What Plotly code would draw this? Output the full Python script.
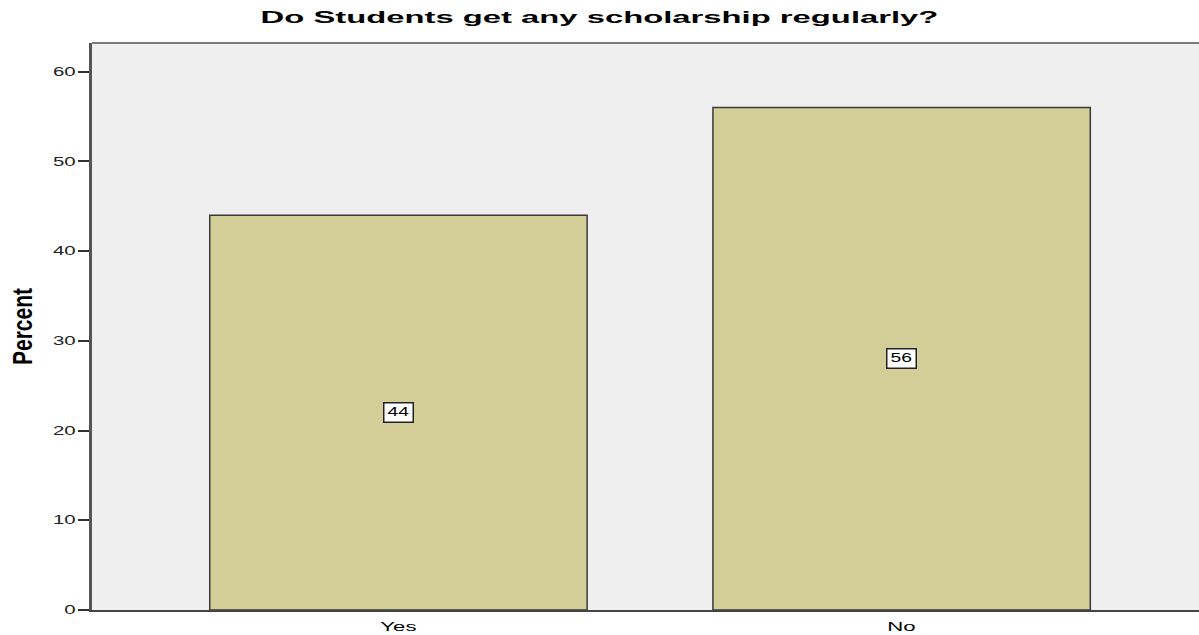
import plotly.graph_objects as go

categories = ["Yes", "No"]
percents = [44, 56]
y_ticks = [0, 10, 20, 30, 40, 50, 60]

x_pos = list(range(len(categories)))
FONT = "Arial, Liberation Sans, sans-serif"

fig = go.Figure()
fig.add_trace(go.Bar(
    x=x_pos,
    y=percents,
    width=0.75,
    marker=dict(color="#d3cd97", line=dict(color="#3a3a3a", width=1.5)),
    hoverinfo="skip",
))

# value labels boxed at mid-height of each bar
for xp, v in zip(x_pos, percents):
    fig.add_annotation(
        x=xp, y=v / 2, text=str(v), showarrow=False,
        font=dict(family=FONT, size=12, color="black"),
        bgcolor="white", bordercolor="#222222", borderwidth=1.5, borderpad=2,
        width=24,
    )

# top frame line of the plot area
fig.add_shape(type="line", xref="paper", yref="paper", x0=0, x1=1, y0=1, y1=1,
              line=dict(color="#7a7a7a", width=2))

fig.update_layout(
    width=1199, height=635,
    margin=dict(l=92, r=0, t=43, b=25),
    paper_bgcolor="white",
    plot_bgcolor="#efefef",
    showlegend=False,
    title=dict(
        text="<b>Do Students get any scholarship regularly?</b>",
        x=0.5, xanchor="center", y=0.972, yanchor="middle",
        font=dict(family=FONT, size=16, color="black"),
    ),
    xaxis=dict(
        range=[-0.609, 1.591],
        tickmode="array", tickvals=x_pos, ticktext=categories,
        showgrid=False, zeroline=False,
        showline=True, linecolor="#444444", linewidth=1.5,
        ticks="", ticklen=0, ticklabelstandoff=5,
        tickfont=dict(family=FONT, size=12, color="black"),
    ),
    yaxis=dict(
        range=[0, 63.2],
        tickmode="array", tickvals=y_ticks,
        showgrid=False, zeroline=False,
        showline=True, linecolor="#555555", linewidth=2.5,
        ticks="outside", ticklen=11, tickwidth=1.5, tickcolor="#333333",
        tickfont=dict(family=FONT, size=12, color="#222222"),
        title=dict(text="<b>Percent</b>", standoff=27,
                   font=dict(family=FONT, size=21, color="black")),
    ),
)

# widen the text glyphs horizontally (wide-aspect rendering of the labels)
post_js = """
var gd = document.getElementById('{plot_id}');
function widen(el, sx, sy, anchor) {
  var b = el.getBBox();
  var cx = anchor === 'end' ? b.x + b.width : b.x + b.width / 2;
  var cy = b.y + b.height / 2;
  var t = el.getAttribute('transform') || '';
  el.setAttribute('transform', t + ' translate(' + cx + ',' + cy + ') scale(' + sx + ',' + sy + ') translate(' + (-cx) + ',' + (-cy) + ')');
}
gd.querySelectorAll('.gtitle').forEach(function (el) { widen(el, 2.05, 1, 'middle'); });
gd.querySelectorAll('.xtick text').forEach(function (el) { widen(el, 1.85, 1, 'middle'); });
gd.querySelectorAll('.ytick text').forEach(function (el) { widen(el, 1.7, 1, 'end'); });
gd.querySelectorAll('.annotation-text').forEach(function (el) { widen(el, 1.6, 1, 'middle'); });
gd.querySelectorAll('.ytitle').forEach(function (el) { widen(el, 1, 1.35, 'middle'); });
"""

fig.write_html("out.html", post_script=post_js)
